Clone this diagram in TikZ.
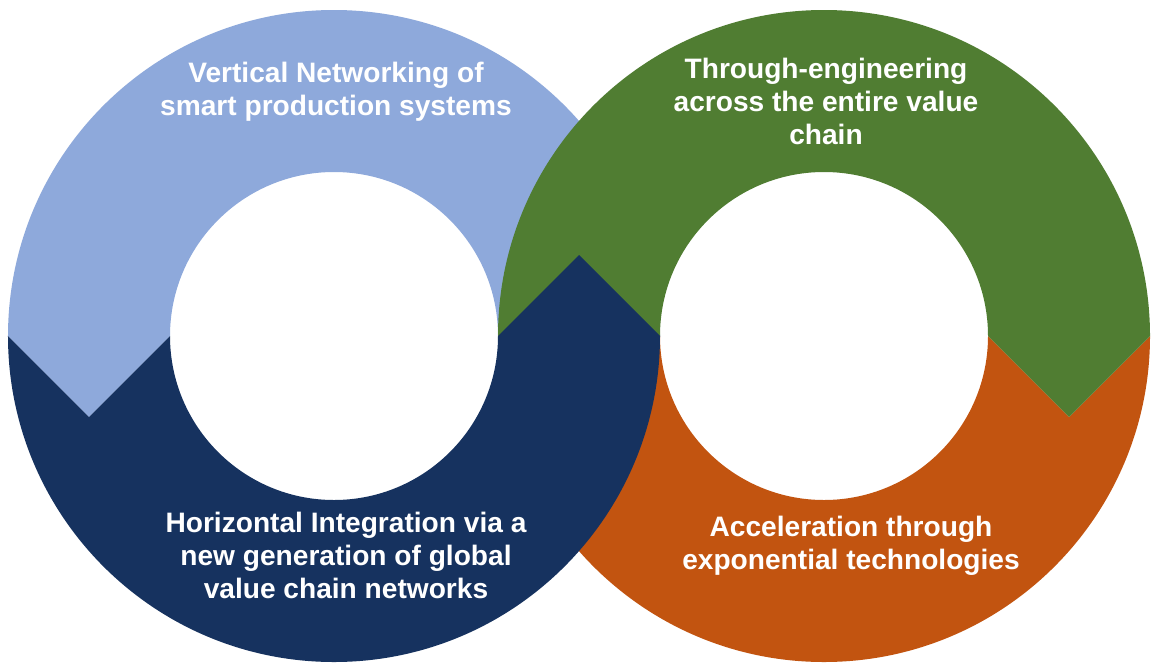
\documentclass[tikz,border=0pt]{standalone}
\usepackage{fontspec}
\setmainfont{Liberation Sans}
\usepackage{tikz}

\definecolor{ringsky}{HTML}{8EA9DB}
\definecolor{ringnavy}{HTML}{16325F}
\definecolor{ringleaf}{HTML}{507D32}
\definecolor{ringrust}{HTML}{C25410}

\begin{document}
\begin{tikzpicture}[
    label/.style={text=white,align=center,font=\bfseries\fontsize{16}{18.8}\selectfont}]
    \fill[white] (-6.68,-6.52) rectangle (16.34,6.72);
    \clip (-6.68,-6.52) rectangle (16.34,6.72);
    \coordinate (L) at (0,0);
    \coordinate (Rc) at (9.8,0);
    \fill[ringsky] (6.52,0) arc[start angle=0,end angle=180,radius=6.52]
      -- (-4.9,-1.62) -- (-3.28,0) arc[start angle=180,end angle=0,radius=3.28] -- cycle;
    \fill[ringrust] (6.52,0) arc[start angle=180,end angle=360,radius=3.28]
      -- (14.7,-1.62) -- (16.32,0) arc[start angle=0,end angle=-180,radius=6.52] -- cycle;
    \fill[ringleaf] (3.28,0) arc[start angle=180,end angle=0,radius=6.52]
      -- (14.7,-1.62) -- (13.08,0) arc[start angle=0,end angle=180,radius=3.28] -- cycle;
    \fill[ringnavy] (-6.52,0) -- (-4.9,-1.62) -- (-3.28,0)
      arc[start angle=180,end angle=360,radius=3.28]
      -- (4.9,1.62) -- (6.52,0) arc[start angle=0,end angle=-180,radius=6.52] -- cycle;
    \node[label] (vert) at (0.04,4.88) {Vertical Networking of\\smart production systems};
    \node[label] (thru) at (9.84,4.70) {Through-engineering\\across the entire value\\chain};
    \node[label] (horz) at (0.24,-4.38) {Horizontal Integration via a\\new generation of global\\value chain networks};
    \node[label] (accel) at (10.34,-4.20) {Acceleration through\\exponential technologies};
  \end{tikzpicture}
\end{document}
